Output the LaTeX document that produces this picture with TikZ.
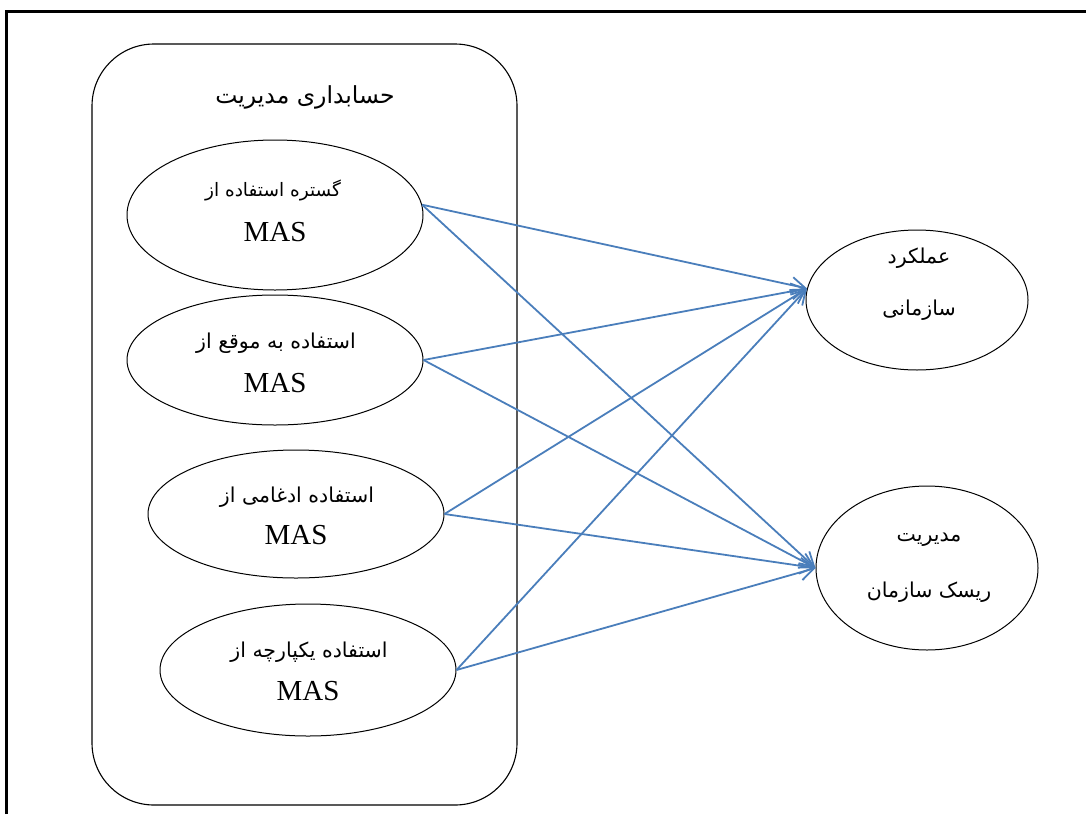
\documentclass[tikz,border=0pt]{standalone}
\usepackage{fontspec}
\usetikzlibrary{shapes.geometric,arrows.meta}
\TeXXeTstate=1
\newfontfamily\fa[Script=Arabic]{DejaVu Sans}
\newfontfamily\mas{Liberation Serif}
\definecolor{arrblue}{HTML}{4A7EBB}
\tikzset{
  ell/.style={draw=black, line width=1pt, ellipse, inner sep=0pt},
  fatxt/.style={inner sep=0pt, font=\fa\fontsize{20.5}{24}\selectfont},
  fasmall/.style={inner sep=0pt, font=\fa\fontsize{18.5}{22}\selectfont},
  fabig/.style={inner sep=0pt, font=\fa\fontsize{23.5}{27}\selectfont},
  mastxt/.style={inner sep=0pt, font=\mas\fontsize{29}{32}\selectfont},
  link/.style={draw=arrblue, line width=1.8pt, -{Straight Barb[length=14pt,width=16pt,line width=1.8pt]}},
}
\begin{document}
\begin{tikzpicture}[x=1pt,y=-1pt]
\useasboundingbox (0,0) rectangle (1086,814);
% outer frame (top and left edges visible)
\draw[line width=3pt] (6,814) -- (6,11) -- (1086,11);
% group box
\node[draw=black, line width=1.1pt, rounded corners=62pt, minimum width=425pt, minimum height=761pt, inner sep=0pt] (grp) at (304.5,424.5) {};
\node[fabig] (title) at (305,97) {\beginR حسابداری مدیریت\endR};
% left ellipses
\node[ell, minimum width=296pt, minimum height=150pt] (e1) at (275,215) {};
\node[fasmall] (e1a) at (273,190) {\beginR گستره استفاده از\endR};
\node[mastxt] (e1b) at (275,232) {MAS};
\node[ell, minimum width=296pt, minimum height=130pt] (e2) at (275,360) {};
\node[fatxt] (e2a) at (276,343) {\beginR استفاده به موقع از\endR};
\node[mastxt] (e2b) at (275,383) {MAS};
\node[ell, minimum width=296pt, minimum height=128pt] (e3) at (296,514) {};
\node[fatxt] (e3a) at (297,497) {\beginR استفاده ادغامی از\endR};
\node[mastxt] (e3b) at (296,535) {MAS};
\node[ell, minimum width=296pt, minimum height=132pt] (e4) at (308,670) {};
\node[fatxt] (e4a) at (309,652) {\beginR استفاده یکپارچه از\endR};
\node[mastxt] (e4b) at (308,691) {MAS};
% right circles
\node[ell, minimum width=222pt, minimum height=140pt] (c1) at (917,300) {};
\node[fatxt] (c1a) at (919,258) {\beginR عملکرد\endR};
\node[fatxt] (c1b) at (919,310) {\beginR سازمانی\endR};
\node[ell, minimum width=222pt, minimum height=164pt] (c2) at (927,568) {};
\node[fatxt] (c2a) at (929,540) {\beginR مدیریت\endR};
\node[fatxt] (c2b) at (929,592) {\beginR ریسک سازمان\endR};
% connectors
\draw[link] (e1.4) -- (c1.174);
\draw[link] (e1.4) -- (c2.west);
\draw[link] (e2.east) -- (c1.174);
\draw[link] (e2.east) -- (c2.west);
\draw[link] (e3.east) -- (c1.174);
\draw[link] (e3.east) -- (c2.west);
\draw[link] (e4.east) -- (c1.174);
\draw[link] (e4.east) -- (c2.west);
\end{tikzpicture}
\end{document}
